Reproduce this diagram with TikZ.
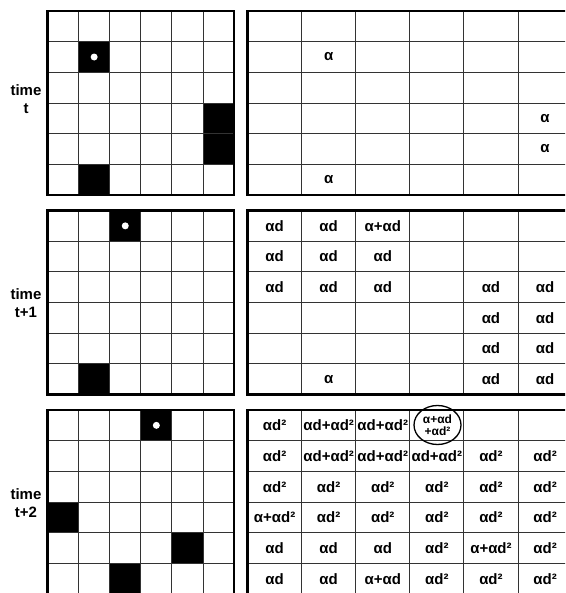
\documentclass[tikz,border=0pt]{standalone}
\usepackage{fontspec}
\setmainfont{Liberation Sans}
\usetikzlibrary{shapes.geometric}
\tikzset{cellline/.style={line width=0.9pt,black!80},
  frame/.style={line width=2.4pt},
  agent/.style={circle,fill=white,inner sep=0pt,minimum size=7pt},
  val/.style={inner sep=0pt,font=\bfseries\fontsize{15}{15}\selectfont},
  timelbl/.style={align=center,font=\bfseries\fontsize{15}{18}\selectfont}}

\begin{document}
\begin{tikzpicture}[x=1pt,y=-1pt]
\useasboundingbox (0,0) rectangle (565,593);
\clip (0,0) rectangle (565,593);
% walls of the maze
\foreach \py/\c/\r in {11/2/2,11/6/4,11/6/5,11/2/6,210.5/3/1,210.5/2/6,410/4/1,410/1/4,410/5/5,410/3/6}
  \fill (16.4+\c*31.1,\py-30.67+\r*30.67) rectangle ++(31.1,30.67);
% grids, frames and time labels
\foreach \p/\py/\tlab/\ly in {1/11/t/99.5,2/210.5/t+1/303,3/410/t+2/503}{
  \foreach \i in {1,...,5}{
    \draw[cellline] (47.5+\i*31.1,\py) -- ++(0,184);
    \draw[cellline] (47.5,\py+\i*30.67) -- ++(186.6,0);
    \draw[cellline] (247.5+\i*54.1,\py) -- ++(0,184);
    \draw[cellline] (247.5,\py+\i*30.67) -- ++(330,0);
  }
  \draw[frame] (47.5,\py) rectangle ++(186.6,184);
  \draw[frame] (247.5,\py) rectangle ++(324.6,184);
  \node[timelbl] (time\p) at (26,\ly) {time\\\tlab};
}
% agent position
\foreach \p/\py/\c/\r in {1/11/2/2,2/210.5/3/1,3/410/4/1}
  \node[agent] (agent\p) at (31.95+\c*31.1,\py-15.33+\r*30.67) {};
% values, time t
\foreach \r/\c/\t in {2/2/α,4/6/α,5/6/α,6/2/α}
  \node[val] (one-\r-\c) at (220.45+\c*54.1,11-15.33+\r*30.67) {\t};
% values, time t+1
\foreach \r/\c/\t in {1/1/αd,1/2/αd,1/3/α+αd,2/1/αd,2/2/αd,2/3/αd,3/1/αd,3/2/αd,3/3/αd,3/5/αd,3/6/αd,
    4/5/αd,4/6/αd,5/5/αd,5/6/αd,6/2/α,6/5/αd,6/6/αd}
  \node[val] (two-\r-\c) at (220.45+\c*54.1,210.5-15.33+\r*30.67) {\t};
% values, time t+2
\foreach \r/\c/\t in {1/1/αd²,1/2/αd+αd²,1/3/αd+αd²,
    2/1/αd²,2/2/αd+αd²,2/3/αd+αd²,2/4/αd+αd²,2/5/αd²,2/6/αd²,
    3/1/αd²,3/2/αd²,3/3/αd²,3/4/αd²,3/5/αd²,3/6/αd²,
    4/1/α+αd²,4/2/αd²,4/3/αd²,4/4/αd²,4/5/αd²,4/6/αd²,
    5/1/αd,5/2/αd,5/3/αd,5/4/αd²,5/5/α+αd²,5/6/αd²,
    6/1/αd,6/2/αd,6/3/α+αd,6/4/αd²,6/5/αd²,6/6/αd²}
  \node[val] (three-\r-\c) at (220.45+\c*54.1,410-15.33+\r*30.67) {\t};
\node[ellipse,draw,line width=1.3pt,minimum width=47pt,minimum height=39pt,inner sep=0pt,align=center,
  font=\bfseries\fontsize{12}{12}\selectfont] (three-1-4) at (437.5,425) {α+αd\\+αd²};
\end{tikzpicture}
\end{document}
